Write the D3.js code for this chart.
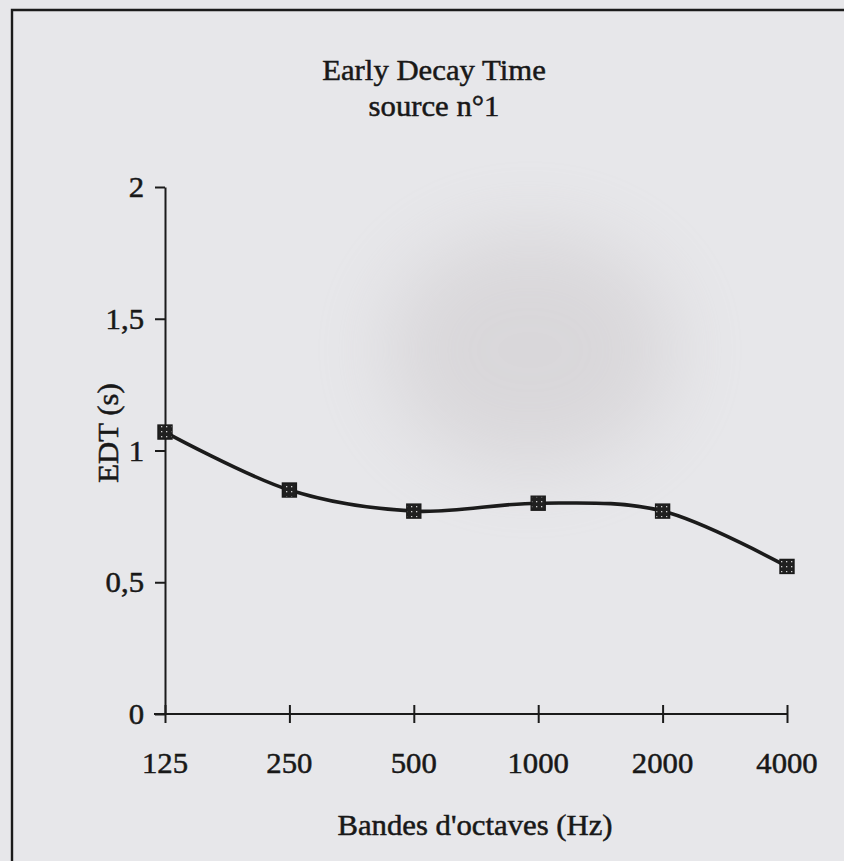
<!DOCTYPE html>
<html>
<head>
<meta charset="utf-8">
<script src="https://cdn.jsdelivr.net/npm/d3@7"></script>
<style>
  html, body { margin: 0; padding: 0; background: #e7e7ea; }
  svg { display: block; }
  text { font-family: "Liberation Serif", "Times New Roman", serif; fill: #181818; stroke: #181818; stroke-width: 0.5px; }
</style>
</head>
<body>
<svg id="chart" width="844" height="861"></svg>
<script>
// Octave bands and early decay time per band
const bands = ["125", "250", "500", "1000", "2000", "4000"];
const edt = [1.07, 0.85, 0.77, 0.80, 0.77, 0.56];
const yTicks = [0, 0.5, 1, 1.5, 2];
const yTickLabels = ["0", "0,5", "1", "1,5", "2"];
const titleLines = ["Early Decay Time", "source n°1"];
const xTitle = "Bandes d'octaves (Hz)";
const yTitle = "EDT (s)";

const W = 844, H = 861;
const svg = d3.select("#chart");
const ink = "#1b1b1b";
const stretch = 1.06;   // glyphs of the typeface run slightly wide
const fs = 29;

// paper background with a soft grey smudge
const defs = svg.append("defs");
defs.append("filter").attr("id", "soft")
  .attr("x", "-50%").attr("y", "-50%").attr("width", "200%").attr("height", "200%")
  .append("feGaussianBlur").attr("stdDeviation", 40);
svg.append("rect").attr("width", W).attr("height", H).attr("fill", "#e7e7ea");
svg.append("ellipse").attr("cx", 530).attr("cy", 350).attr("rx", 145).attr("ry", 120)
  .attr("fill", "#bdb7ba").attr("opacity", 0.32).attr("filter", "url(#soft)");

// outer frame (runs off the right and bottom edges)
svg.append("path")
  .attr("d", `M12,${H + 5} L12,10 L${W + 5},10`)
  .attr("fill", "none").attr("stroke", ink).attr("stroke-width", 2.4);

const x = d3.scalePoint().domain(bands).range([165, 787]);
const y = d3.scaleLinear().domain([0, 2]).range([714, 187]);

// stretched text helper
function label(g, txt, tx, ty, size, anchor, rot) {
  return g.append("text")
    .attr("transform", `translate(${tx},${ty})` + (rot ? ` rotate(${rot})` : "") + ` scale(${stretch},1)`)
    .attr("text-anchor", anchor)
    .style("font-size", size + "px")
    .text(txt);
}

// titles
label(svg, titleLines[0], 434, 80, fs, "middle");
label(svg, titleLines[1], 434, 116, fs, "middle");

// y axis
const yAxis = svg.append("g").attr("transform", `translate(${x(bands[0])},0)`)
  .call(d3.axisLeft(y).tickValues(yTicks).tickSize(10).tickSizeOuter(0).tickFormat(""));
yAxis.select(".domain").attr("stroke", ink).attr("stroke-width", 2);
yAxis.selectAll(".tick line").attr("stroke", ink).attr("stroke-width", 2);
yTicks.forEach((v, i) => {
  label(svg, yTickLabels[i], 144, y(v) + 10, fs, "end");
});

// x axis with ticks crossing the line
const xAxis = svg.append("g").attr("transform", `translate(0,${y(0)})`)
  .call(d3.axisBottom(x).tickSize(9).tickSizeOuter(0).tickFormat(""));
xAxis.select(".domain").attr("stroke", ink).attr("stroke-width", 2)
  .attr("d", `M${x(bands[0]) - 11},0H${x(bands[bands.length - 1])}`);
xAxis.selectAll(".tick line").attr("stroke", ink).attr("stroke-width", 2).attr("y1", -9);
bands.forEach(b => label(svg, b, x(b), 773, fs, "middle"));

// axis titles
label(svg, xTitle, 475, 835, fs, "middle");
label(svg, yTitle, 118, 433, fs, "middle", -90);

// smoothed data line
const line = d3.line()
  .x((d, i) => x(bands[i]))
  .y(d => y(d))
  .curve(d3.curveCatmullRom.alpha(0));
svg.append("path").datum(edt)
  .attr("d", line)
  .attr("fill", "none").attr("stroke", ink).attr("stroke-width", 3.6)
  .attr("stroke-linejoin", "round");

// square markers with a speckled fill
const pattern = defs.append("pattern").attr("id", "speckle")
  .attr("patternUnits", "userSpaceOnUse").attr("width", 5).attr("height", 5);
pattern.append("rect").attr("width", 5).attr("height", 5).attr("fill", "#202020");
pattern.append("rect").attr("x", 1).attr("y", 1).attr("width", 1.3).attr("height", 1.3).attr("fill", "#cfcfcf");

const ms = 14;
svg.append("g").selectAll("rect").data(edt).join("rect")
  .attr("x", (d, i) => x(bands[i]) - ms / 2)
  .attr("y", d => y(d) - ms / 2)
  .attr("width", ms).attr("height", ms)
  .attr("fill", "url(#speckle)")
  .attr("stroke", "#1a1a1a").attr("stroke-width", 1.4);
</script>
</body>
</html>
